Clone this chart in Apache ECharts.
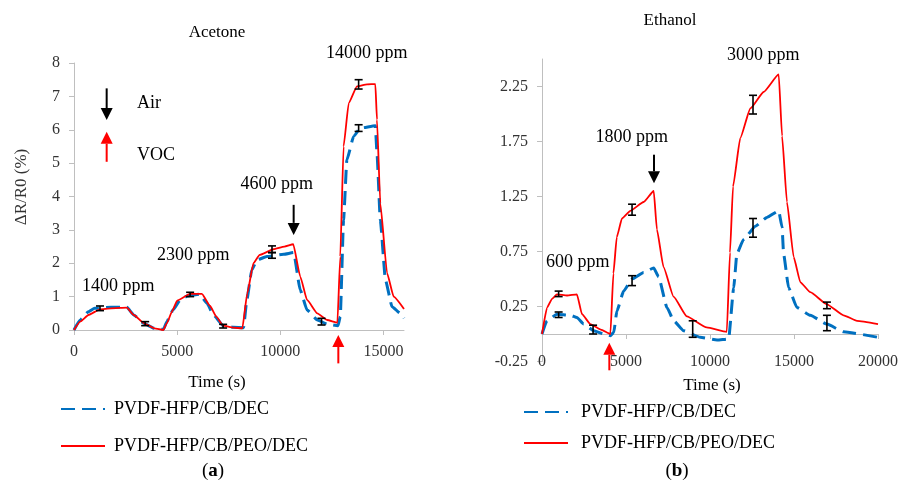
<!DOCTYPE html>
<html>
<head>
<meta charset="utf-8">
<script src="https://cdn.jsdelivr.net/npm/echarts@6/dist/echarts.min.js"></script>
<style>
html, body { margin: 0; padding: 0; background: #fff; }
#main { width: 901px; height: 484px; }
</style>
</head>
<body>
<div id="main"></div>
<script>
var SERIF = 'Liberation Serif';
var nameDEC = 'PVDF-HFP/CB/DEC';
var namePEO = 'PVDF-HFP/CB/PEO/DEC';

// ---- (a) Acetone : [time (s), dR/R0 (%)]
var acetoneDEC = [[0,0],[300,0.3],[700,0.55],[1000,0.65],[1800,0.68],[2560,0.68],[2900,0.45],[3370,0.2],[3900,0.05],[4340,0.02],
  [4500,0.25],[4800,0.6],[5150,0.9],[5500,1.02],[6100,1.07],[6450,0.8],[6760,0.45],[7250,0.12],[7730,0.08],[8220,0.07],
  [8380,0.9],[8620,1.8],[8870,2.1],[9350,2.2],[10160,2.27],[10650,2.32],[10970,1.2],[11300,0.6],[11800,0.3],[12270,0.18],[12800,0.13],
  [12910,0.4],[13070,3.3],[13230,5.1],[13560,5.8],[13880,6.05],[14610,6.12],[14690,5.3],[14850,3.3],[15100,1.5],[15420,0.7],[15820,0.5],[16000,0.35]];
var acetonePEO = [[0,0],[300,0.25],[700,0.45],[1260,0.62],[1800,0.65],[2560,0.67],[2900,0.45],[3400,0.2],[3900,0.05],[4330,0.0],
  [4500,0.2],[4750,0.55],[5000,0.88],[5630,1.08],[6200,1.08],[6600,0.72],[6900,0.4],[7230,0.13],[7730,0.07],[8160,0.05],
  [8400,1.1],[8700,2.0],[9000,2.25],[9670,2.42],[10200,2.5],[10630,2.57],[10970,1.6],[11300,0.9],[11800,0.5],[12270,0.3],[12770,0.22],
  [12910,2.2],[13070,5.5],[13320,6.8],[13720,7.3],[14210,7.36],[14610,7.37],[14690,6.3],[14850,3.8],[15180,1.7],[15500,1.0],[16000,0.63]];
var acetoneErr = [[1260,0.58,0.72],[3450,0.13,0.25],[5630,1.0,1.13],[7230,0.06,0.17],[9600,2.32,2.52],[9600,2.15,2.32],
  [12000,0.15,0.35],[13800,7.22,7.5],[13800,5.95,6.15]];
var acetoneXTicks = [0, 5000, 10000, 15000];
var acetoneLabels = ['1400 ppm', '2300 ppm', '4600 ppm', '14000 ppm'];
var acetoneLabelPos = [[2150,1.3],[5785,2.25],[9826,4.37],[14190,8.29]];
var acetoneKeyText = ['Air', 'VOC'];
var acetoneKeyPos = [[3060,6.8],[3060,5.24]];
// arrows: [time, tail, tip]
var acetoneAirArrows = [[1584,7.24,6.29],[10650,3.75,2.85]];
var acetoneVocArrows = [[1584,5.04,5.94],[12816,-1.0,-0.15]];

// ---- (b) Ethanol
var ethanolDEC = [[0,0],[300,0.12],[890,0.18],[1690,0.17],[2080,0.15],[2480,0.09],[3080,0.03],[3670,0.0],[4070,-0.015],
  [4270,0.015],[4460,0.21],[4860,0.39],[5360,0.5],[6050,0.56],[6650,0.6],[6940,0.52],[7440,0.24],[7840,0.12],[8430,0.03],[9420,-0.03],[10420,-0.055],[11110,-0.045],
  [11410,0.42],[11600,0.73],[12000,0.86],[12700,0.98],[13390,1.06],[14090,1.12],[14290,0.97],[14380,0.73],[14680,0.42],[15180,0.24],[15970,0.17],[16960,0.09],[17950,0.02],[20000,-0.03]];
var ethanolPEO = [[0,0],[300,0.24],[600,0.32],[890,0.36],[1490,0.35],[2080,0.36],[2380,0.18],[2880,0.09],[3500,0.04],[4070,0.0],
  [4250,0.55],[4450,0.88],[4760,1.05],[5260,1.12],[6050,1.2],[6650,1.3],[6840,0.95],[7230,0.61],[7830,0.34],[8620,0.16],[9800,0.06],[11000,0.02],
  [11190,0.74],[11370,1.34],[11800,1.78],[12400,2.05],[13190,2.2],[14090,2.36],[14290,1.8],[14580,1.2],[14980,0.7],[15380,0.47],[15970,0.38],[16960,0.27],[17950,0.17],[18750,0.12],[20000,0.09]];
var ethanolErr = [[990,0.34,0.39],[990,0.15,0.2],[3040,0.0,0.08],[5360,1.08,1.18],[5360,0.44,0.53],[8970,-0.03,0.12],
  [12560,2.0,2.17],[12560,0.88,1.05],[16960,0.23,0.29],[16960,0.03,0.17]];
var ethanolXTicks = [0, 5000, 10000, 15000, 20000];
var ethanolYTicks = [-0.25, 0.25, 0.75, 1.25, 1.75, 2.25];
var ethanolLabels = ['600 ppm', '1800 ppm', '3000 ppm'];
var ethanolLabelPos = [[2125,0.65],[5339,1.79],[13173,2.53]];
var ethanolAirArrows = [[6667,1.63,1.37]];
var ethanolVocArrows = [[4008,-0.33,-0.08]];

var BLUE = '#0070C0', RED = '#FF0000', AXIS = '#bfbfbf', TICKTXT = '#333';

function errRender(params, api) {
  var top = api.coord([api.value(0), api.value(2)]);
  var bot = api.coord([api.value(0), api.value(1)]);
  var w = 4, st = { stroke: '#000', lineWidth: 1.6 };
  return { type: 'group', children: [
    { type: 'line', shape: { x1: top[0], y1: top[1], x2: bot[0], y2: bot[1] }, style: st },
    { type: 'line', shape: { x1: top[0] - w, y1: top[1], x2: top[0] + w, y2: top[1] }, style: st },
    { type: 'line', shape: { x1: bot[0] - w, y1: bot[1], x2: bot[0] + w, y2: bot[1] }, style: st }
  ]};
}

function arrowRender(color) {
  return function (params, api) {
    var a = api.coord([api.value(0), api.value(1)]);
    var b = api.coord([api.value(0), api.value(2)]);
    var dir = b[1] > a[1] ? 1 : -1;
    var head = 12, half = 6;
    return { type: 'group', children: [
      { type: 'line', shape: { x1: a[0], y1: a[1], x2: b[0], y2: b[1] - dir * head }, style: { stroke: color, lineWidth: 2 } },
      { type: 'polygon', shape: { points: [[b[0], b[1]], [b[0] - half, b[1] - dir * head], [b[0] + half, b[1] - dir * head]] }, style: { fill: color } }
    ]};
  };
}

function textRender(labels, align, size) {
  return function (params, api) {
    var p = api.coord([api.value(0), api.value(1)]);
    return { type: 'text', x: p[0], y: p[1], style: {
      text: labels[params.dataIndex], align: align, verticalAlign: 'middle',
      fontFamily: SERIF, fontSize: size, fill: '#000' } };
  };
}

function lineSeries(name, data, xi, yi, color, dashed) {
  return {
    name: name, type: 'line', data: data, xAxisIndex: xi, yAxisIndex: yi,
    symbol: 'none', showSymbol: false, smooth: 0.15, smoothMonotone: 'x',
    lineStyle: { color: color, width: dashed ? 3 : 1.8, type: dashed ? [14, 7] : 'solid' },
    itemStyle: { color: color }, z: dashed ? 2 : 3
  };
}

function customSeries(data, xi, yi, render, encode) {
  return { type: 'custom', data: data, xAxisIndex: xi, yAxisIndex: yi, clip: false,
    renderItem: render, encode: encode, silent: true, z: 5 };
}

function plain(v) { return String(v); }
var tickLabel = { color: TICKTXT, fontFamily: SERIF, fontSize: 16, formatter: plain };

function label(text, x, y, size) {
  return { type: 'text', x: x, y: y, style: { text: text, align: 'center', verticalAlign: 'middle',
    fontFamily: SERIF, fontSize: size, fill: '#000' } };
}

var chart = echarts.init(document.getElementById('main'));
var option = {
  animation: false,
  backgroundColor: '#fff',
  grid: [
    { left: 74, top: 63, width: 330, height: 267 },
    { left: 542, top: 59, width: 336, height: 302.5 }
  ],
  xAxis: [
    { gridIndex: 0, type: 'value', min: 0, max: 16000,
      axisLine: { lineStyle: { color: AXIS } },
      axisTick: { length: 5, lineStyle: { color: AXIS }, customValues: acetoneXTicks },
      axisLabel: Object.assign({ margin: 14, customValues: acetoneXTicks }, tickLabel),
      splitLine: { show: false } },
    { gridIndex: 1, type: 'value', min: 0, max: 20000,
      axisLine: { onZero: true, lineStyle: { color: AXIS } },
      axisTick: { length: 5, lineStyle: { color: AXIS }, customValues: ethanolXTicks },
      axisLabel: { show: false },
      splitLine: { show: false } },
    { gridIndex: 1, type: 'value', min: 0, max: 20000, position: 'bottom',
      axisLine: { show: false, onZero: false },
      axisTick: { show: false },
      axisLabel: Object.assign({ margin: -8, customValues: ethanolXTicks }, tickLabel),
      splitLine: { show: false } }
  ],
  yAxis: [
    { gridIndex: 0, type: 'value', min: 0, max: 8, interval: 1,
      axisLine: { show: true, lineStyle: { color: AXIS } },
      axisTick: { show: true, length: 5, lineStyle: { color: AXIS } },
      axisLabel: Object.assign({ margin: 14 }, tickLabel),
      splitLine: { show: false } },
    { gridIndex: 1, type: 'value', min: -0.25, max: 2.5,
      axisLine: { show: true, onZero: false, lineStyle: { color: AXIS } },
      axisTick: { show: true, length: 5, lineStyle: { color: AXIS }, customValues: ethanolYTicks },
      axisLabel: Object.assign({ margin: 14, customValues: ethanolYTicks }, tickLabel),
      splitLine: { show: false } }
  ],
  legend: [
    { orient: 'vertical', left: 55, top: 395, itemWidth: 44, itemHeight: 14, itemGap: 19,
      data: [nameDEC, namePEO], selectedMode: false, itemStyle: { opacity: 0 },
      textStyle: { fontFamily: SERIF, fontSize: 18, color: '#000', padding: [0, 0, 0, 4] } },
    { orient: 'vertical', left: 518, top: 398, itemWidth: 44, itemHeight: 14, itemGap: 13,
      data: [nameDEC, namePEO], selectedMode: false, itemStyle: { opacity: 0 },
      textStyle: { fontFamily: SERIF, fontSize: 18, color: '#000', padding: [0, 0, 0, 8] } }
  ],
  graphic: [
    label('Acetone', 217, 33, 17),
    label('Ethanol', 670, 21, 17),
    { type: 'text', x: 22, y: 187, rotation: Math.PI / 2, style: { text: 'ΔR/R0 (%)', align: 'center', verticalAlign: 'middle', fontFamily: SERIF, fontSize: 17, fill: '#333' } },
    label('Time (s)', 217, 383, 17),
    label('Time (s)', 712, 386, 17),
    { type: 'text', x: 213, y: 471, style: { text: '({b|a})', align: 'center', verticalAlign: 'middle', fontFamily: SERIF, fontSize: 19, fill: '#000',
      rich: { b: { fontFamily: SERIF, fontSize: 19, fontWeight: 'bold' } } } },
    { type: 'text', x: 677, y: 471, style: { text: '({b|b})', align: 'center', verticalAlign: 'middle', fontFamily: SERIF, fontSize: 19, fill: '#000',
      rich: { b: { fontFamily: SERIF, fontSize: 19, fontWeight: 'bold' } } } }
  ],
  series: [
    lineSeries(nameDEC, acetoneDEC, 0, 0, BLUE, true),
    lineSeries(namePEO, acetonePEO, 0, 0, RED, false),
    lineSeries(nameDEC, ethanolDEC, 1, 1, BLUE, true),
    lineSeries(namePEO, ethanolPEO, 1, 1, RED, false),
    customSeries(acetoneErr, 0, 0, errRender, { x: 0, y: [1, 2] }),
    customSeries(ethanolErr, 1, 1, errRender, { x: 0, y: [1, 2] }),
    customSeries(acetoneAirArrows, 0, 0, arrowRender('#000'), { x: 0, y: [1, 2] }),
    customSeries(acetoneVocArrows, 0, 0, arrowRender(RED), { x: 0, y: [1, 2] }),
    customSeries(ethanolAirArrows, 1, 1, arrowRender('#000'), { x: 0, y: [1, 2] }),
    customSeries(ethanolVocArrows, 1, 1, arrowRender(RED), { x: 0, y: [1, 2] }),
    customSeries(acetoneLabelPos, 0, 0, textRender(acetoneLabels, 'center', 18), { x: 0, y: 1 }),
    customSeries(acetoneKeyPos, 0, 0, textRender(acetoneKeyText, 'left', 18), { x: 0, y: 1 }),
    customSeries(ethanolLabelPos, 1, 1, textRender(ethanolLabels, 'center', 18), { x: 0, y: 1 })
  ]
};
chart.setOption(option);
</script>
</body>
</html>
